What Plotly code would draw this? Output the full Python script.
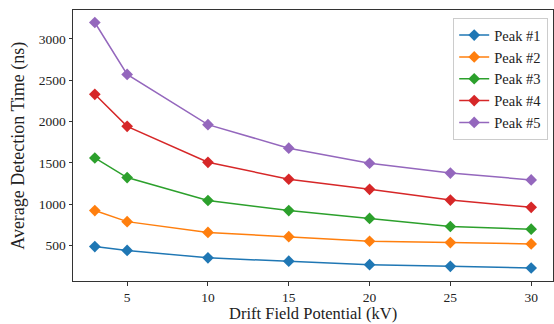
import plotly.graph_objects as go

x_kv = [3, 5, 10, 15, 20, 25, 30]
peak1 = [488, 441, 351, 311, 268, 248, 228]
peak2 = [923, 789, 659, 607, 552, 536, 520]
peak3 = [1559, 1322, 1045, 923, 828, 730, 698]
peak4 = [2329, 1942, 1507, 1302, 1180, 1050, 962]
peak5 = [3198, 2570, 1962, 1678, 1495, 1377, 1294]
names = ["Peak #1", "Peak #2", "Peak #3", "Peak #4", "Peak #5"]
colors = ["#1f77b4", "#ff7f0e", "#2ca02c", "#d62728", "#9467bd"]
x_ticks = [5, 10, 15, 20, 25, 30]
y_ticks = [500, 1000, 1500, 2000, 2500, 3000]
x_title = "Drift Field Potential (kV)"
y_title = "Average Detection Time (ns)"

FONT = "Liberation Serif"
B = 43
PH = 324 - 10 - B
fig = go.Figure()
for name, ys, c in zip(names, [peak1, peak2, peak3, peak4, peak5], colors):
    fig.add_trace(go.Scatter(x=x_kv, y=ys, name=name, mode="lines+markers",
                             line=dict(color=c, width=1.5),
                             marker=dict(symbol="diamond", size=9, color=c)))

axis_common = dict(showline=True, linecolor="#333333", linewidth=1, mirror=True,
                   ticks="outside", ticklen=3.5, tickcolor="#333333", showgrid=False,
                   zeroline=False, automargin=False,
                   tickfont=dict(family=FONT, size=13.5, color="#222"))
fig.update_xaxes(range=[1.65, 31.35], tickvals=x_ticks, **axis_common)
fig.update_yaxes(range=[71, 3349], tickvals=y_ticks, **axis_common)

fig.add_annotation(text=x_title, xref="paper", yref="paper", x=0.5, y=-B / PH,
                   xanchor="center", yanchor="bottom", showarrow=False, borderpad=0,
                   font=dict(family=FONT, size=16.5, color="#222"))
fig.add_annotation(text=y_title, xref="paper", yref="paper", x=-0.114, y=0.5,
                   xanchor="center", yanchor="middle", textangle=-90, showarrow=False,
                   font=dict(family=FONT, size=18, color="#222"))

fig.update_layout(width=554, height=324, margin=dict(l=73, r=1, t=10, b=B),
                  plot_bgcolor="white", paper_bgcolor="white",
                  legend=dict(x=0.99, y=0.97, xanchor="right", yanchor="top",
                              bordercolor="#cccccc", borderwidth=1, bgcolor="rgba(255,255,255,0.8)",
                              font=dict(family=FONT, size=14.5, color="#222"), tracegroupgap=0))
fig.write_html("out.html", config={"displayModeBar": False},
               post_script="document.body.style.margin='0';document.body.style.overflow='hidden';")
